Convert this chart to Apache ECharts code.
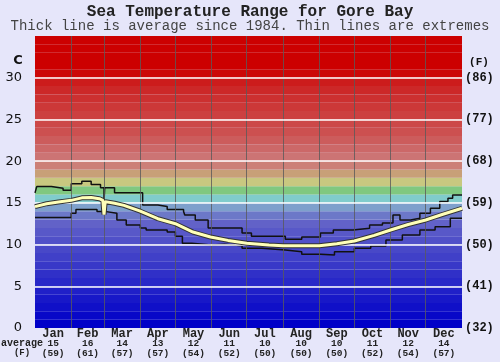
<!DOCTYPE html>
<html>
<head>
<meta charset="utf-8">
<script src="https://cdn.jsdelivr.net/npm/echarts@6/dist/echarts.min.js"></script>
<style>
html,body{margin:0;padding:0;background:#e6e6fa;}
#chart{width:500px;height:362px;}
</style>
</head>
<body>
<div id="chart"></div>
<script>
// ---- data ----
const monthNames = ['Jan','Feb','Mar','Apr','May','Jun','Jul','Aug','Sep','Oct','Nov','Dec'];
const monthAvgC = ['15','16','14','13','12','11','10','10','10','11','12','14'];
const monthAvgF = ['(59)','(61)','(57)','(57)','(54)','(52)','(50)','(50)','(50)','(52)','(54)','(57)'];
const monthStartDays = [0,31,59,90,120,151,181,212,243,273,304,334,365];
const yTicksC = ['0','5','10','15','20','25','30'];
const yTicksF = ['(32)','(41)','(50)','(59)','(68)','(77)','(86)'];

const avgDays = [0,10,20,31,40,48,55,58,59,60,68,76,90,105,120,135,150,165,181,200,212,230,243,258,273,290,304,319,334,348,365];
const avgVals = [14.55,14.9,15.1,15.3,15.6,15.65,15.5,15.3,13.6,15.15,14.95,14.7,14.0,13.1,12.5,11.5,10.9,10.5,10.15,9.95,9.87,9.85,9.85,10.1,10.43,11.1,11.75,12.4,12.95,13.6,14.35];

const maxDays = [0,1.5,14,24,31,40,48,56,59,59.6,68,92,105,113,127,128,137,148,177,185,214,228,244,255,272,286,297,306,312,321,329,338,346,353,357,365];
const maxVals = [16.2,16.95,16.75,16.5,17.3,17.6,17.2,16.8,15.3,16.8,16.2,14.75,14.55,14.2,13.95,13.55,12.95,12.0,11.4,11.0,10.65,10.9,11.4,11.75,11.95,12.35,12.6,13.55,12.95,13.15,13.75,14.35,15.15,15.55,15.95,15.95];

const minDays = [0,31,35,53,61,70,78,90,95,113,120,126,134,151,162,177,194,214,228,244,256,273,287,300,314,329,342,355,365];
const minVals = [13.25,13.75,14.2,13.95,13.75,12.95,12.35,12.0,11.75,11.5,11.0,10.15,9.95,10.05,9.85,9.55,9.35,9.15,8.83,8.75,9.15,9.55,9.83,10.55,11.15,11.75,12.15,13.15,13.15];

// ---- styles ----
const bandColors = ['#0000c8','#0808c8','#1010c8','#1818c8','#2020c8','#2828c8','#3030c8','#3838c8','#4040c8','#4848c8',
  '#5050c8','#5858c8','#6262c8','#6c78c8','#7ea0cc','#80cccc','#80c880','#c8c880','#c8a078','#cc8078',
  '#cc7474','#cc6868','#cc5c5c','#cc5050','#cc4848','#cc4040','#cc3838','#cc3030','#cc2828','#cc1c1c',
  '#cc0808','#cc0000','#cc0000','#cc0000','#cc0000'];

const midDays = monthNames.map((m,i)=>(monthStartDays[i]+monthStartDays[i+1])/2);
const zip = (a,b)=>a.map((v,i)=>[v,b[i]]);

const bandAreas = bandColors.map((c,i)=>[{yAxis:i, itemStyle:{color:c}},{yAxis:i+1}]);
const vLines = monthStartDays.slice(1,12).map(d=>({xAxis:d}));
const hLines = yTicksC.slice(1).map(v=>({yAxis:+v}));

const chart = echarts.init(document.getElementById('chart'), null, {renderer:'canvas'});
const mono = 'Liberation Mono, Courier New, monospace';
chart.setOption({
  backgroundColor:'#e6e6fa',
  animation:false,
  grid:{left:35,right:38,top:36,bottom:34,containLabel:false},
  xAxis:{type:'value',min:0,max:365,
    axisLine:{show:false},axisTick:{show:false},splitLine:{show:false},
    axisLabel:{customValues:midDays,margin:1,interval:0,
      formatter:(v)=>{const i=midDays.findIndex(d=>Math.abs(d-v)<0.01); if(i<0) return '';
        return '{m|'+monthNames[i]+'}\n{v|'+monthAvgC[i]+'}\n{v|'+monthAvgF[i]+'}';},
      rich:{m:{fontFamily:mono,fontWeight:'bold',fontSize:12,lineHeight:10,color:'#222'},
            v:{fontFamily:mono,fontWeight:'bold',fontSize:9.5,lineHeight:9.5,color:'#222'}}}
  },
  yAxis:[
    {type:'value',min:0,max:35,interval:5,position:'left',
     axisLine:{show:false},axisTick:{show:false},splitLine:{show:false},
     axisLabel:{margin:13,fontFamily:'DejaVu Sans',fontSize:13,color:'#111',
       formatter:(v)=>{const i=v/5; return yTicksC[i]!==undefined?yTicksC[i]:'';}}},
    {type:'value',min:0,max:35,interval:5,position:'right',
     axisLine:{show:false},axisTick:{show:false},splitLine:{show:false},
     axisLabel:{margin:3,fontFamily:mono,fontWeight:'bold',fontSize:12,color:'#111',
       formatter:(v)=>{const i=v/5; return yTicksF[i]!==undefined?yTicksF[i]:'';}}}
  ],
  graphic:[
    {type:'text',left:'center',top:4,style:{text:'Sea Temperature Range for Gore Bay',font:'bold 16px '+mono,fill:'#222'}},
    {type:'text',left:'center',top:19,style:{text:'Thick line is average since 1984. Thin lines are extremes',font:'14px '+mono,fill:'#444'}},
    {type:'text',x:18,y:61,style:{text:'C',font:'bold 13px DejaVu Sans',fill:'#111',align:'center',verticalAlign:'middle'}},
    {type:'text',x:479,y:62,style:{text:'(F)',font:'bold 11px '+mono,fill:'#111',align:'center',verticalAlign:'middle'}},
    {type:'text',x:22,y:343,style:{text:'average',font:'bold 10px '+mono,fill:'#222',align:'center',verticalAlign:'middle'}},
    {type:'text',x:22,y:352.5,style:{text:'(F)',font:'bold 9px '+mono,fill:'#222',align:'center',verticalAlign:'middle'}}
  ],
  series:[
    {type:'line',data:[],z:1,silent:true,
     markArea:{silent:true,itemStyle:{borderWidth:0},data:bandAreas}},
    {type:'line',data:[],z:2,silent:true,
     markLine:{silent:true,symbol:['none','none'],label:{show:false},
       lineStyle:{color:'rgba(90,90,90,0.8)',width:1,type:'solid'},data:vLines}},
    {type:'line',data:[],z:3,silent:true,
     markLine:{silent:true,symbol:['none','none'],label:{show:false},
       lineStyle:{color:'#ffffff',width:1.6,type:'solid'},data:hLines}},
    {type:'line',name:'max',z:4,data:zip(maxDays,maxVals),step:'end',showSymbol:false,symbol:'none',
     lineStyle:{color:'#111',width:1.5}},
    {type:'line',name:'min',z:4,data:zip(minDays,minVals),step:'end',showSymbol:false,symbol:'none',
     lineStyle:{color:'#111',width:1.5}},
    {type:'line',name:'avgOutline',z:5,data:zip(avgDays,avgVals),showSymbol:false,symbol:'none',
     lineStyle:{color:'#333',width:5}},
    {type:'line',name:'avg',z:6,data:zip(avgDays,avgVals),showSymbol:false,symbol:'none',
     lineStyle:{color:'#ffffb8',width:3}}
  ]
});
</script>
</body>
</html>
